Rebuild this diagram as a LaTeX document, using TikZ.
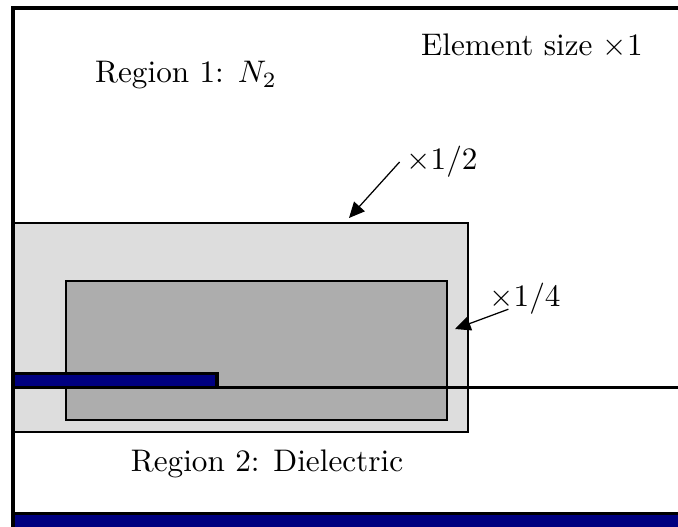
\documentclass[tikz,border=0pt]{standalone}
\usepackage{amsmath}
\usepackage{tikz}
\usetikzlibrary{arrows.meta,calc}
\definecolor{meshnavy}{HTML}{000080}
\definecolor{meshlight}{HTML}{DDDDDD}
\definecolor{meshdark}{HTML}{ADADAD}

\begin{document}
\begin{tikzpicture}[x=.01126cm,y=.01126cm,line cap=butt,line join=miter,
  wall/.style={line width=1pt},
  zone/.style={draw=black,line width=.4pt},
  pointer/.style={-{Triangle[length=5pt,width=4.6pt]},line width=.4pt},
  info/.style={inner sep=2pt,align=center}]
\path[use as bounding box] (0,0) rectangle (678,527);
\fill[white] (0,0) rectangle (678,527);

% Refinement zones around the electrode tip.
\filldraw[zone,fill=meshlight] (13,95) rectangle (468,304);
\filldraw[zone,fill=meshdark] (66,107) rectangle (447,246);

% Ground electrode at the bottom, outer walls and the interface.
\fill[meshnavy] (13,0) rectangle (678,13);
\draw[wall] (13,13.5)--(678,13.5);
\draw[wall] (13,0)--(13,519)--(678,519);
\draw[wall] (13,139.5)--(678,139.5);

% Upper electrode lying on the dielectric.
\filldraw[wall,fill=meshnavy] (13,139.5) rectangle (217,153.5);

\node[info] (size) at (532,481) {Element size $\times1$};
\node[info] (gas) at (186,452) {Region 1: $N_2$};
\node[info] (diel) at (267,63) {Region 2: Dielectric};
\node[info] (half) at (442,365) {$\times1/2$};
\node[inner sep=0pt] (quarter) at (525,228) {$\times1/4$};

\coordinate (halftip) at (349,309);
\coordinate (quartertip) at (455,198);
\draw[pointer] (half.west)--(halftip);
\draw[pointer] ($(quarter.south west)!.27!(quarter.south east)+(0,6)$)--(quartertip);
\end{tikzpicture}
\end{document}
